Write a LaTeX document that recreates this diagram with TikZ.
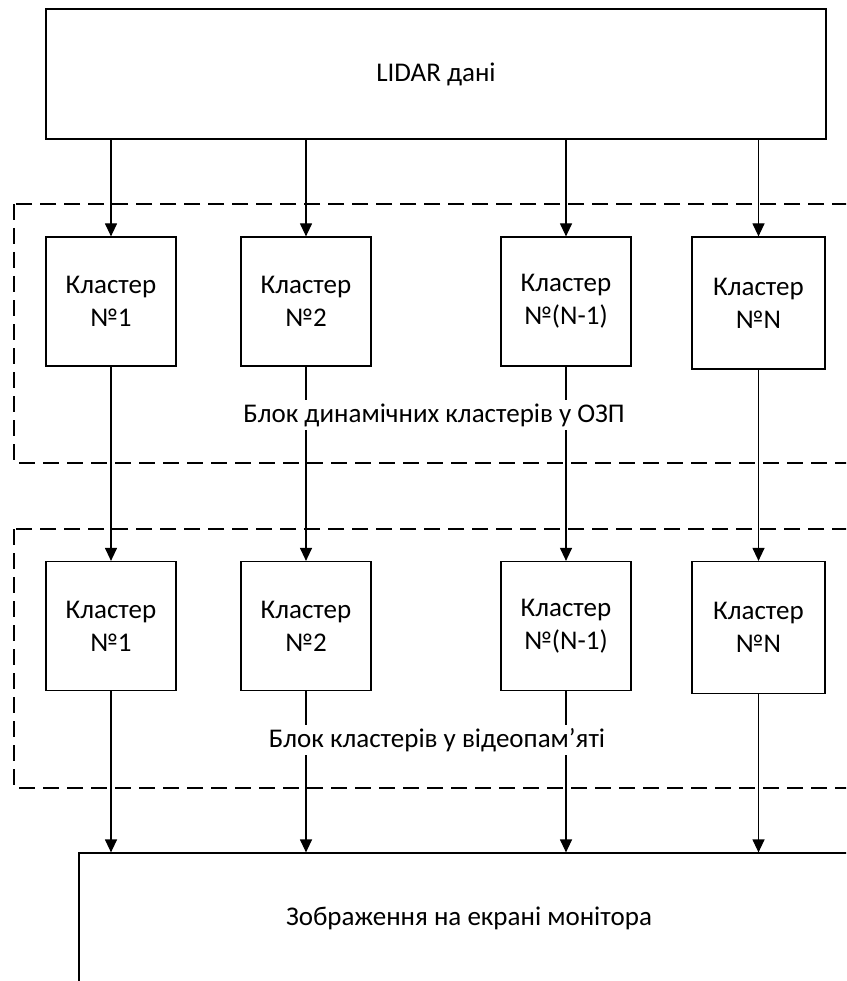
\documentclass[tikz,border=0pt]{standalone}
\usepackage{fontspec}
\setmainfont{Carlito}
\usetikzlibrary{arrows.meta}
\begin{document}
\begin{tikzpicture}[x=1pt,y=-1pt,
  box/.style={draw, line width=1.2pt, inner sep=0pt, align=center},
  clbox/.style={box, minimum width=130pt, minimum height=129pt},
  clboxn/.style={box, minimum width=133pt, minimum height=132pt},
  bigbox/.style={box, minimum width=780pt, minimum height=130pt},
  arr/.style={line width=1.2pt, -{Triangle[width=12pt,length=13pt]}},
  grp/.style={draw, line width=1.2pt, dash pattern=on 16pt off 8pt},
  lbl/.style={fill=white, inner sep=3pt},
  font=\fontsize{27}{33}\selectfont]
\useasboundingbox (0,0) rectangle (846,981);
\clip (0,0) rectangle (846,981);

% group frames
\draw[grp] (14,204) rectangle (880,463);
\draw[grp] (14,529) rectangle (880,788);

% main boxes
\node[bigbox] (lidar) at (436,74) {LIDAR дані};
\node[bigbox] (disp) at (469,918) {Зображення на екрані монітора};

% clusters row 1
\node[clbox] (a1) at (111,301.5) {Кластер\\№1};
\node[clbox] (a2) at (306,301.5) {Кластер\\№2};
\node[clbox] (a3) at (566,301.5) {Кластер\\№(N-1)};
\node[clboxn] (a4) at (758.5,303) {Кластер\\№N};

% clusters row 2
\node[clbox] (b1) at (111,626) {Кластер\\№1};
\node[clbox] (b2) at (306,626) {Кластер\\№2};
\node[clbox] (b3) at (566,626) {Кластер\\№(N-1)};
\node[clboxn] (b4) at (758.5,627.5) {Кластер\\№N};

% connectors
\foreach \i in {1,2,3,4} {
  \draw[arr] (lidar.south -| a\i.north) -- (a\i.north);
  \draw[arr] (a\i.south) -- (b\i.north);
  \draw[arr] (b\i.south) -- (b\i.south |- disp.north);
}

% group labels
\node[lbl] (g1) at (434,415) {Блок динамічних кластерів у ОЗП};
\node[lbl] (g2) at (437,740) {Блок кластерів у відеопам’яті};
\end{tikzpicture}
\end{document}
